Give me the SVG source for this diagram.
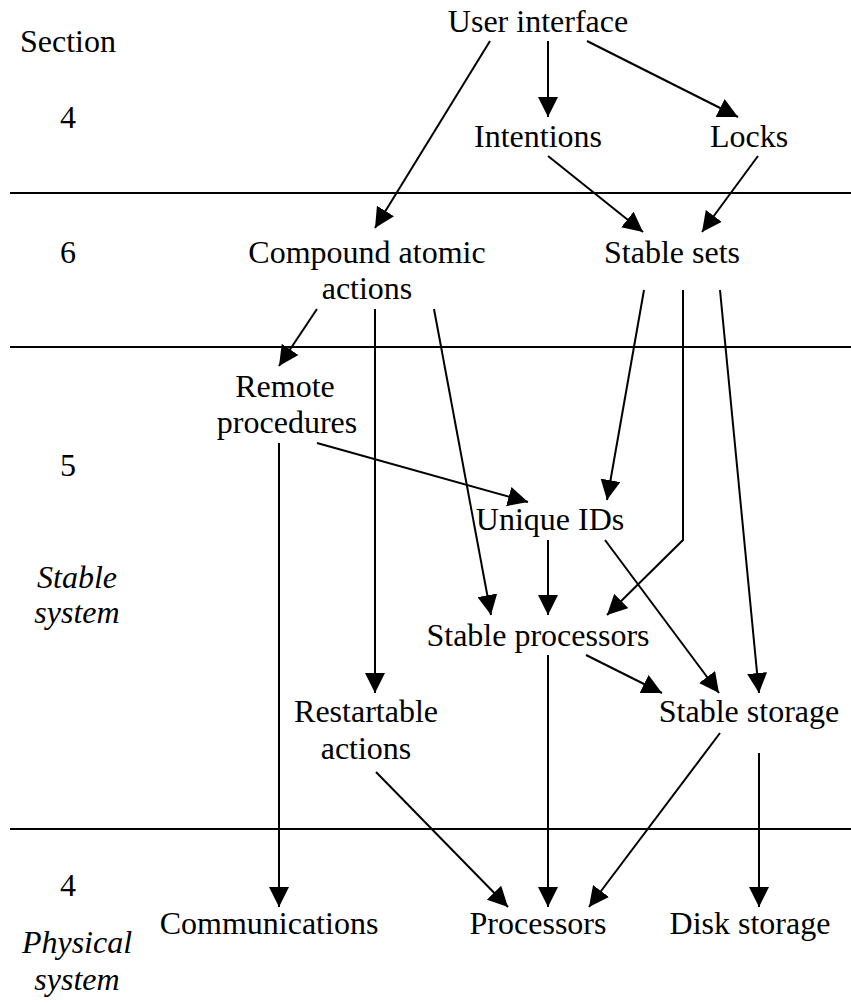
<svg xmlns="http://www.w3.org/2000/svg" width="851" height="1003" viewBox="0 0 851 1003" font-family="'Liberation Serif', 'Times New Roman', 'DejaVu Serif', serif" font-size="32">
<defs>
<marker id="ah" markerUnits="userSpaceOnUse" markerWidth="20" markerHeight="20" refX="20" refY="10" orient="auto">
<path d="M0,0 L20,10 L0,20 z" fill="#000"/>
</marker>
<style>
.n text{text-anchor:middle}
.it{font-style:italic;text-anchor:middle}
.c line,.c polyline{stroke:#000;stroke-width:2;fill:none;marker-end:url(#ah)}
.sep{stroke:#000;stroke-width:2}
</style>
</defs>
<rect width="851" height="1003" fill="#fff"/>
<g id="separators">
<line class="sep" x1="10" y1="193" x2="851" y2="193"/>
<line class="sep" x1="10" y1="347" x2="851" y2="347"/>
<line class="sep" x1="10" y1="829" x2="851" y2="829"/>
</g>
<g id="sections">
<text x="20" y="52">Section</text>
<text x="68" y="128" text-anchor="middle">4</text>
<text x="68" y="263" text-anchor="middle">6</text>
<text x="68" y="476" text-anchor="middle">5</text>
<text x="77" y="588" class="it">Stable</text>
<text x="77" y="623" class="it">system</text>
<text x="68" y="896" text-anchor="middle">4</text>
<text x="77" y="953" class="it">Physical</text>
<text x="77" y="990" class="it">system</text>
</g>
<g class="n">
<g id="user-interface"><text x="538" y="32">User interface</text></g>
<g id="intentions"><text x="538" y="147">Intentions</text></g>
<g id="locks"><text x="749" y="147">Locks</text></g>
<g id="compound-atomic-actions"><text x="367" y="263">Compound atomic</text><text x="367" y="299">actions</text></g>
<g id="stable-sets"><text x="672" y="263">Stable sets</text></g>
<g id="remote-procedures"><text x="285" y="397">Remote</text><text x="287" y="433">procedures</text></g>
<g id="unique-ids"><text x="550" y="530">Unique IDs</text></g>
<g id="stable-processors"><text x="538" y="646">Stable processors</text></g>
<g id="restartable-actions"><text x="366" y="722">Restartable</text><text x="366" y="759">actions</text></g>
<g id="stable-storage"><text x="749" y="722">Stable storage</text></g>
<g id="communications"><text x="269" y="934">Communications</text></g>
<g id="processors"><text x="538" y="934">Processors</text></g>
<g id="disk-storage"><text x="750" y="934">Disk storage</text></g>
</g>
<g id="connectors" class="c">
<line x1="490" y1="41" x2="375" y2="228"/>
<line x1="548" y1="41" x2="548" y2="117"/>
<line x1="587" y1="41" x2="738" y2="117"/>
<line x1="548" y1="156" x2="643" y2="232"/>
<line x1="758" y1="156" x2="702" y2="232"/>
<line x1="317" y1="309" x2="279" y2="366"/>
<line x1="375" y1="309" x2="375" y2="693"/>
<line x1="434" y1="309" x2="491" y2="615"/>
<line x1="644" y1="290" x2="607" y2="500"/>
<polyline points="683,290 683,540 607,615"/>
<line x1="720" y1="290" x2="759" y2="693"/>
<line x1="279" y1="443" x2="279" y2="907"/>
<line x1="317" y1="443" x2="528" y2="502"/>
<line x1="548" y1="540" x2="548" y2="615"/>
<line x1="605" y1="540" x2="719" y2="693"/>
<line x1="586" y1="655" x2="662" y2="693"/>
<line x1="376" y1="772" x2="508" y2="907"/>
<line x1="548" y1="655" x2="548" y2="907"/>
<line x1="720" y1="733" x2="589" y2="907"/>
<line x1="759" y1="753" x2="759" y2="907"/>
</g>
</svg>
